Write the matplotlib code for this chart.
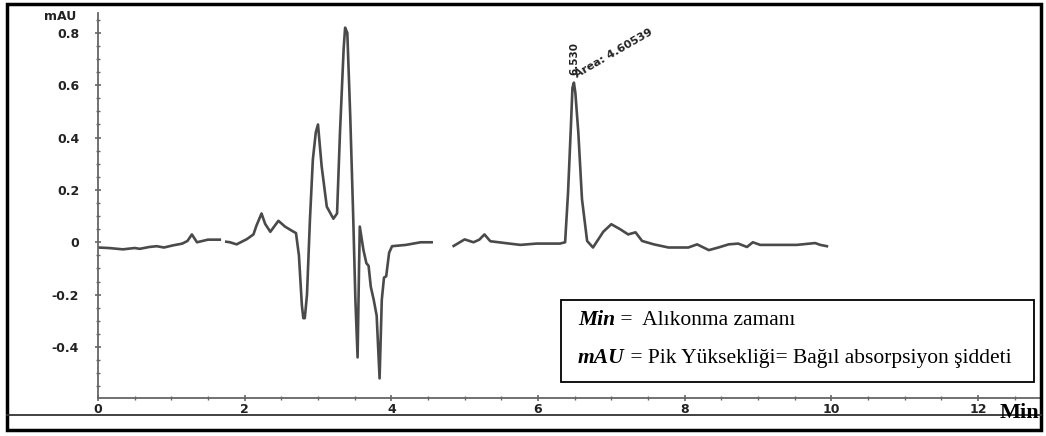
import numpy as np
import matplotlib
matplotlib.use("Agg")
import matplotlib.pyplot as plt
from matplotlib.ticker import MultipleLocator, FuncFormatter
from matplotlib.lines import Line2D
from matplotlib.patches import Rectangle

nan = float("nan")

# retention time (min)
time_min = [
    0.00, 0.15, 0.34, 0.50, 0.57, 0.70, 0.80, 0.90, 1.02, 1.15, 1.22, 1.28, 1.35,
    1.50, 1.66, nan, 1.75, 1.80, 1.89, 2.03, 2.12, 2.16, 2.23, 2.28, 2.35, 2.46,
    2.55, 2.62, 2.70, 2.74, 2.78, 2.80, 2.82, 2.85, 2.89, 2.93, 2.97, 3.00, 3.05,
    3.12, 3.21, 3.26, 3.30, 3.35, 3.37, 3.40, 3.44, 3.48, 3.51, 3.54, 3.56, 3.57,
    3.62, 3.66, 3.69, 3.72, 3.76, 3.80, 3.84, 3.87, 3.90, 3.93, 3.97, 4.01, 4.20,
    4.40, 4.55, nan, 4.85, 5.00, 5.12, 5.20, 5.27, 5.35, 5.58, 5.76, 5.98, 6.30,
    6.37, 6.41, 6.45, 6.47, 6.49, 6.51, 6.55, 6.60, 6.67, 6.75, 6.89, 7.00, 7.12,
    7.23, 7.33, 7.42, 7.58, 7.78, 7.89, 8.05, 8.17, 8.33, 8.46, 8.60, 8.73, 8.85,
    8.93, 9.03, 9.30, 9.53, 9.78, 9.85, 9.94,
]
# absorbance (mAU)
absorbance = [
    -0.020, -0.022, -0.027, -0.022, -0.025, -0.018, -0.015, -0.020, -0.012, -0.005, 0.005, 0.030, 0.000,
    0.010, 0.010, nan, 0.002, 0.000, -0.008, 0.012, 0.030, 0.063, 0.110, 0.070, 0.040, 0.082,
    0.060, 0.048, 0.035, -0.050, -0.240, -0.290, -0.290, -0.200, 0.085, 0.316, 0.420, 0.450, 0.290,
    0.136, 0.090, 0.110, 0.420, 0.740, 0.820, 0.800, 0.480, 0.100, -0.220, -0.440, -0.093, 0.060,
    -0.030, -0.080, -0.090, -0.170, -0.220, -0.280, -0.520, -0.220, -0.135, -0.130, -0.040, -0.015, -0.010,
    0.000, 0.000, nan, -0.014, 0.011, 0.000, 0.010, 0.030, 0.004, -0.004, -0.010, -0.005, -0.005,
    0.000, 0.190, 0.450, 0.590, 0.610, 0.570, 0.420, 0.165, 0.005, -0.020, 0.040, 0.069, 0.050,
    0.030, 0.038, 0.005, -0.008, -0.020, -0.020, -0.020, -0.008, -0.030, -0.020, -0.008, -0.005, -0.018,
    0.000, -0.010, -0.010, -0.010, -0.003, -0.010, -0.015,
]

y_ticks = [-0.4, -0.2, 0, 0.2, 0.4, 0.6, 0.8]
x_ticks = [0, 2, 4, 6, 8, 10, 12]
peak_time = "6.530"
peak_area = "Area: 4.60539"
legend_lines = [("Min", " =  Alıkonma zamanı"),
                ("mAU", " = Pik Yüksekliği= Bağıl absorpsiyon şiddeti")]

W, H = 1046, 436
fig = plt.figure(figsize=(W / 100, H / 100), dpi=100)

def fx(px):
    return px / W

def fy(py):
    return 1 - py / H

ax = fig.add_axes([fx(98), fy(398), fx(1040) - fx(98), fy(13) - fy(398)])
ax.set_xlim(0, (1040 - 98) / 73.33)
ax.set_ylim(-0.595, 0.876)

axis_col = "#666666"
ax.plot(time_min, absorbance, color="#4a4a4a", lw=1.9, solid_joinstyle="round")

for s in ["top", "right"]:
    ax.spines[s].set_visible(False)
for s in ["left", "bottom"]:
    ax.spines[s].set_color(axis_col)
    ax.spines[s].set_linewidth(1.3)

ax.set_xticks(x_ticks)
ax.set_yticks(y_ticks)
ax.xaxis.set_minor_locator(MultipleLocator(0.5))
ax.yaxis.set_minor_locator(MultipleLocator(0.05))
ax.yaxis.set_major_formatter(FuncFormatter(lambda v, p: "0" if abs(v) < 1e-9 else f"{v:.1f}"))
ax.tick_params(axis="both", which="major", color=axis_col, width=1.2, length=5,
               direction="inout", labelsize=9, labelcolor="#222222")
ax.tick_params(axis="both", which="minor", color=axis_col, width=1.0, length=3,
               direction="inout")
ax.tick_params(axis="x", pad=1)
ax.tick_params(axis="y", pad=11)
for lab in ax.get_xticklabels() + ax.get_yticklabels():
    lab.set_fontweight("bold")

# peak annotations
ax.text(6.49, 0.64, peak_time, rotation=90, ha="center", va="bottom",
        fontsize=7.5, fontweight="bold", color="#222222")
ax.text(6.54, 0.62, peak_area, rotation=30, ha="left", va="bottom",
        rotation_mode="anchor", fontsize=8, fontweight="bold", color="#222222")

# mAU unit label
fig.text(fx(60), fy(17), "mAU", ha="center", va="center", fontsize=9,
         fontweight="bold", color="#222222")

# bottom line and outer frame
fig.add_artist(Line2D([fx(7), fx(1041)], [fy(415), fy(415)], color="#333333", lw=1.3))
fig.add_artist(Rectangle((fx(7), fy(430)), fx(1041) - fx(7), fy(4) - fy(430),
                         fill=False, ec="black", lw=2.5, transform=fig.transFigure))

# "Min" axis label
fig.text(fx(1039), fy(413), "Min", ha="right", va="center", fontsize=16,
         fontweight="bold", family="Liberation Serif", color="black")

# legend box
fig.add_artist(Rectangle((fx(561), fy(382)), fx(1034) - fx(561), fy(300) - fy(382),
                         fill=True, fc="white", ec="black", lw=1.3,
                         transform=fig.transFigure, zorder=5))
for (bold, rest), py in zip(legend_lines, [320, 358]):
    t = fig.text(fx(578), fy(py), bold, ha="left", va="center", fontsize=15.5,
                 fontweight="bold", fontstyle="italic", family="Liberation Serif",
                 color="black", zorder=6)
    fig.canvas.draw()
    bb = t.get_window_extent()
    fig.text(bb.x1 / W, fy(py), rest, ha="left", va="center", fontsize=15.5,
             family="Liberation Serif", color="black", zorder=6)

fig.savefig("out.png", dpi=100, facecolor="white")
